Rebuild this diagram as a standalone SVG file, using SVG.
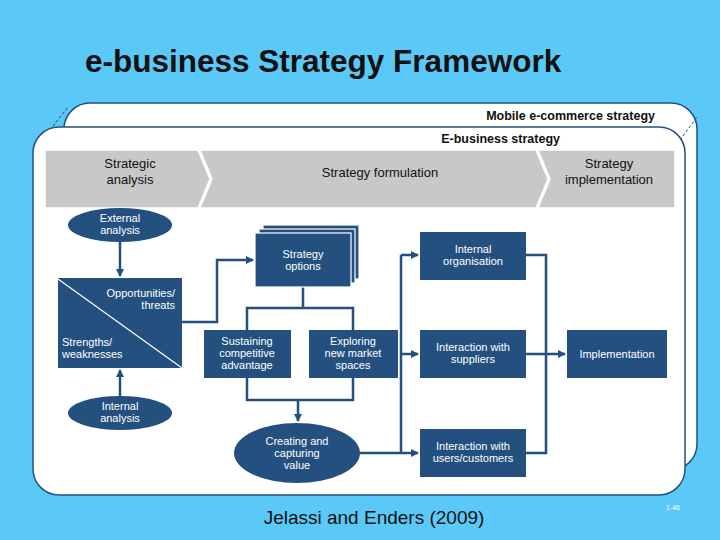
<svg xmlns="http://www.w3.org/2000/svg" width="720" height="540" viewBox="0 0 720 540">
<defs>
<marker id="ah" markerWidth="8" markerHeight="8" refX="7" refY="4" orient="auto" markerUnits="userSpaceOnUse"><path d="M0,0 L8,4 L0,8 z" fill="#24507f"/></marker>
<style>
.box{fill:#24507f}
.t{font-family:"Liberation Sans",Arial,sans-serif;font-size:11px;fill:#fff;text-anchor:middle}
.te{font-family:"Liberation Sans",Arial,sans-serif;font-size:11px;fill:#fff;text-anchor:end}
.ts{font-family:"Liberation Sans",Arial,sans-serif;font-size:11px;fill:#fff;text-anchor:start}
.g{font-family:"Liberation Sans",Arial,sans-serif;font-size:13px;fill:#111;text-anchor:middle}
.c{fill:none;stroke:#24507f;stroke-width:2.5}
.panel{fill:#fff;stroke:#24507f;stroke-width:1.5}
</style>
</defs>
<rect width="720" height="540" fill="#5bc9f7"/>
<text x="85" y="72" font-family="Liberation Sans,Arial,sans-serif" font-size="31.5" font-weight="bold" fill="#111">e-business Strategy Framework</text>
<g id="mobile"><rect class="panel" x="64" y="103" width="633" height="367" rx="26"/>
<text x="655" y="120" font-family="Liberation Sans,Arial,sans-serif" font-size="12.5" font-weight="bold" text-anchor="end" fill="#111">Mobile e-commerce strategy</text></g>
<line x1="50" y1="130" x2="68" y2="107" stroke="#24507f" stroke-dasharray="3,2"/>
<line x1="680" y1="140" x2="697" y2="117" stroke="#24507f" stroke-dasharray="3,2"/>
<g id="ebusiness"><rect class="panel" x="33" y="127" width="652" height="368" rx="26"/>
<text x="560" y="143" font-family="Liberation Sans,Arial,sans-serif" font-size="12.5" font-weight="bold" text-anchor="end" fill="#111">E-business strategy</text></g>
<g id="band" fill="#c8c8c8" stroke="#fff" stroke-width="1.5">
<polygon points="45,150 198,150 210,179 198,208 45,208"/>
<polygon points="200,150 536,150 548,179 536,208 200,208 212,179"/>
<polygon points="538,150 675,150 675,208 538,208 550,179"/>
</g>
<text class="g" x="130" y="168">Strategic</text><text class="g" x="130" y="184">analysis</text>
<text class="g" x="380" y="177">Strategy formulation</text>
<text class="g" x="609" y="168">Strategy</text><text class="g" x="609" y="184">implementation</text>
<g id="connectors">
<line class="c" x1="120" y1="242" x2="120" y2="276" marker-end="url(#ah)"/>
<line class="c" x1="120" y1="396" x2="120" y2="370" marker-end="url(#ah)"/>
<polyline class="c" points="182,322 217,322 217,260 253,260" marker-end="url(#ah)"/>
<polyline class="c" points="303,287 303,308"/>
<polyline class="c" points="247,330 247,308 353,308 353,330"/>
<polyline class="c" points="247,378 247,400 353,400 353,378"/>
<line class="c" x1="298" y1="400" x2="298" y2="421" marker-end="url(#ah)"/>
<line class="c" x1="401" y1="255" x2="401" y2="453"/>
<line class="c" x1="360" y1="453" x2="418" y2="453" marker-end="url(#ah)"/>
<line class="c" x1="401" y1="255" x2="418" y2="255" marker-end="url(#ah)"/>
<line class="c" x1="401" y1="354" x2="418" y2="354" marker-end="url(#ah)"/>
<polyline class="c" points="526,255 546,255 546,453 526,453"/>
<line class="c" x1="526" y1="354" x2="565" y2="354" marker-end="url(#ah)"/>
</g>
<g id="external"><ellipse class="box" cx="120" cy="225" rx="52" ry="17"/><text class="t" x="120" y="222">External</text><text class="t" x="120" y="234">analysis</text></g>
<g id="swot"><rect class="box" x="58" y="278" width="124" height="90"/>
<line x1="58" y1="279" x2="182" y2="368" stroke="#fff" stroke-width="1.2"/>
<text class="te" x="175" y="297">Opportunities/</text><text class="te" x="175" y="309">threats</text>
<text class="ts" x="62" y="346">Strengths/</text><text class="ts" x="62" y="358">weaknesses</text></g>
<g id="internal"><ellipse class="box" cx="120" cy="413" rx="52" ry="17"/><text class="t" x="120" y="410">Internal</text><text class="t" x="120" y="422">analysis</text></g>
<g id="options">
<rect x="263" y="225" width="96" height="54" fill="#24507f" stroke="#fff" stroke-width="1.2"/>
<rect x="259" y="229" width="96" height="54" fill="#24507f" stroke="#fff" stroke-width="1.2"/>
<rect x="255" y="233" width="96" height="54" fill="#24507f" stroke="#fff" stroke-width="1.2"/>
<text class="t" x="303" y="258">Strategy</text><text class="t" x="303" y="270">options</text></g>
<g id="sustaining"><rect class="box" x="204" y="330" width="87" height="48"/><text class="t" x="247" y="345">Sustaining</text><text class="t" x="247" y="357">competitive</text><text class="t" x="247" y="369">advantage</text></g>
<g id="exploring"><rect class="box" x="309" y="330" width="89" height="48"/><text class="t" x="353" y="345">Exploring</text><text class="t" x="353" y="357">new market</text><text class="t" x="353" y="369">spaces</text></g>
<g id="creating"><ellipse class="box" cx="297" cy="453" rx="63" ry="30"/><text class="t" x="297" y="445">Creating and</text><text class="t" x="297" y="457">capturing</text><text class="t" x="297" y="469">value</text></g>
<g id="org"><rect class="box" x="420" y="232" width="106" height="48"/><text class="t" x="473" y="253">Internal</text><text class="t" x="473" y="265">organisation</text></g>
<g id="suppliers"><rect class="box" x="420" y="330" width="106" height="48"/><text class="t" x="473" y="351">Interaction with</text><text class="t" x="473" y="363">suppliers</text></g>
<g id="users"><rect class="box" x="420" y="429" width="106" height="48"/><text class="t" x="473" y="450">Interaction with</text><text class="t" x="473" y="462">users/customers</text></g>
<g id="impl"><rect class="box" x="567" y="330" width="100" height="48"/><text class="t" x="617" y="358">Implementation</text></g>
<text x="374" y="524" font-family="Liberation Sans,Arial,sans-serif" font-size="19" text-anchor="middle" fill="#111">Jelassi and Enders (2009)</text>
<text x="673" y="510" font-family="Liberation Sans,Arial,sans-serif" font-size="7" text-anchor="middle" fill="#fff">1-46</text>
</svg>
